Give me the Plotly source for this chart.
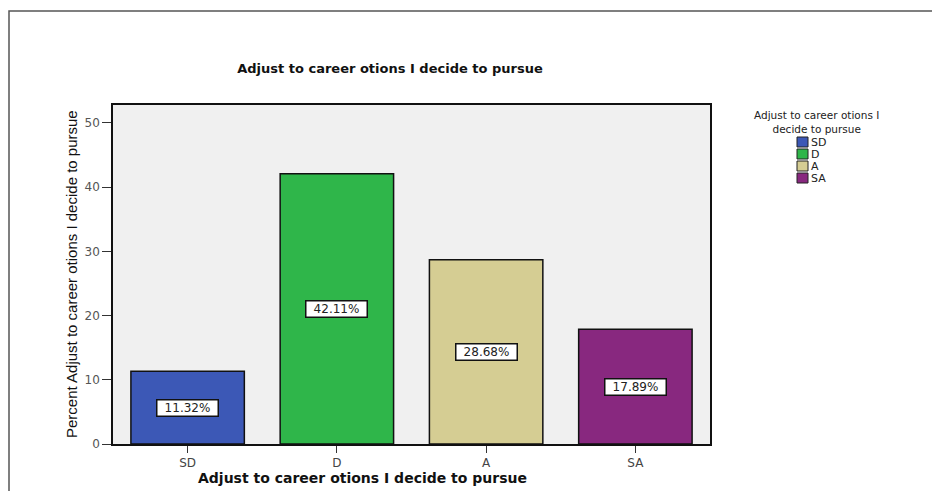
import plotly.graph_objects as go

# Response categories, percentages and bar colours
categories = ["SD", "D", "A", "SA"]
percents = [11.32, 42.11, 28.68, 17.89]
colors = ["#3c58b6", "#2fb64a", "#d5cd93", "#88287f"]
y_ticks = [0, 10, 20, 30, 40, 50]

title_text = "Adjust to career otions I decide to pursue"
y_title = "Percent Adjust to career otions I decide to pursue"
legend_title = "Adjust to career otions I<br>decide to pursue"

W, H = 932, 491
L, R, T, B = 113, 710, 105, 444  # plot area in pixels

WIDE = "DejaVu Sans, Verdana, sans-serif"
ARIAL = "Liberation Sans, Arial, sans-serif"


def px(x):
    return (x - L) / (R - L)


def py(y):
    return (B - y) / (B - T)


fig = go.Figure()
fig.add_trace(go.Bar(
    x=categories,
    y=percents,
    width=0.76,
    marker=dict(color=colors, line=dict(color="#111111", width=1.5)),
    showlegend=False,
    hoverinfo="skip",
))

annotations = []
# percentage labels in white boxes at bar mid-height
for c, v in zip(categories, percents):
    annotations.append(dict(
        x=c, y=v / 2, xref="x", yref="y", text=f"{v:.2f}%", showarrow=False,
        font=dict(family=WIDE, size=12, color="#222222"),
        width=58, height=13, align="center",
        bgcolor="white", bordercolor="#111111", borderwidth=1.5, borderpad=1,
    ))

# x axis title
annotations.append(dict(
    x=px(362), y=py(478), xref="paper", yref="paper", text=f"<b>{title_text}</b>",
    showarrow=False, font=dict(family=WIDE, size=14, color="#111111"),
    xanchor="center", yanchor="middle",
))
# y axis title
annotations.append(dict(
    x=px(71), y=py(274), xref="paper", yref="paper", text=y_title, textangle=-90,
    showarrow=False, font=dict(family=ARIAL, size=15, color="#111111"),
    xanchor="center", yanchor="middle",
))

# legend block
annotations.append(dict(
    x=px(816), y=py(122), xref="paper", yref="paper", text=legend_title,
    showarrow=False, font=dict(family=WIDE, size=10.5, color="#222222"),
    xanchor="center", yanchor="middle", align="center", borderpad=0,
))
shapes = []
for i, (c, col) in enumerate(zip(categories, colors)):
    yc = 142 + 12 * i
    shapes.append(dict(
        type="rect", xref="paper", yref="paper",
        x0=px(797), x1=px(808), y0=py(yc - 5), y1=py(yc + 5),
        fillcolor=col, line=dict(color="#222222", width=1),
    ))
    annotations.append(dict(
        x=px(810), y=py(yc), xref="paper", yref="paper", text=c, showarrow=False,
        font=dict(family=WIDE, size=11, color="#222222"),
        xanchor="left", yanchor="middle", borderpad=0,
    ))

# outer frame
shapes.append(dict(
    type="rect", xref="paper", yref="paper",
    x0=px(9), x1=px(960), y0=py(11), y1=py(520),
    line=dict(color="#555555", width=1.5), fillcolor="rgba(0,0,0,0)",
))

fig.update_layout(
    width=W, height=H,
    margin=dict(l=L, r=W - R, t=T, b=H - B, autoexpand=False),
    paper_bgcolor="white",
    plot_bgcolor="#f0f0f0",
    title=dict(
        text=f"<b>{title_text}</b>", x=px(390), xref="paper", xanchor="center",
        y=1 - 68 / H, yanchor="middle",
        font=dict(family=WIDE, size=13, color="#111111"),
    ),
    xaxis=dict(
        type="category", range=[-0.5, 3.5], showgrid=False, zeroline=False,
        showline=True, linecolor="#111111", linewidth=1.5, mirror=True,
        ticks="outside", ticklen=7, tickcolor="#333333",
        tickfont=dict(family=WIDE, size=12, color="#444444"),
    ),
    yaxis=dict(
        range=[0, 52.8], tickvals=y_ticks, showgrid=False, zeroline=False,
        showline=True, linecolor="#111111", linewidth=1.5, mirror=True,
        ticks="outside", ticklen=9, tickcolor="#333333",
        tickfont=dict(family=WIDE, size=12, color="#555555"),
    ),
    annotations=annotations,
    shapes=shapes,
)

fig.write_html("out.html")
